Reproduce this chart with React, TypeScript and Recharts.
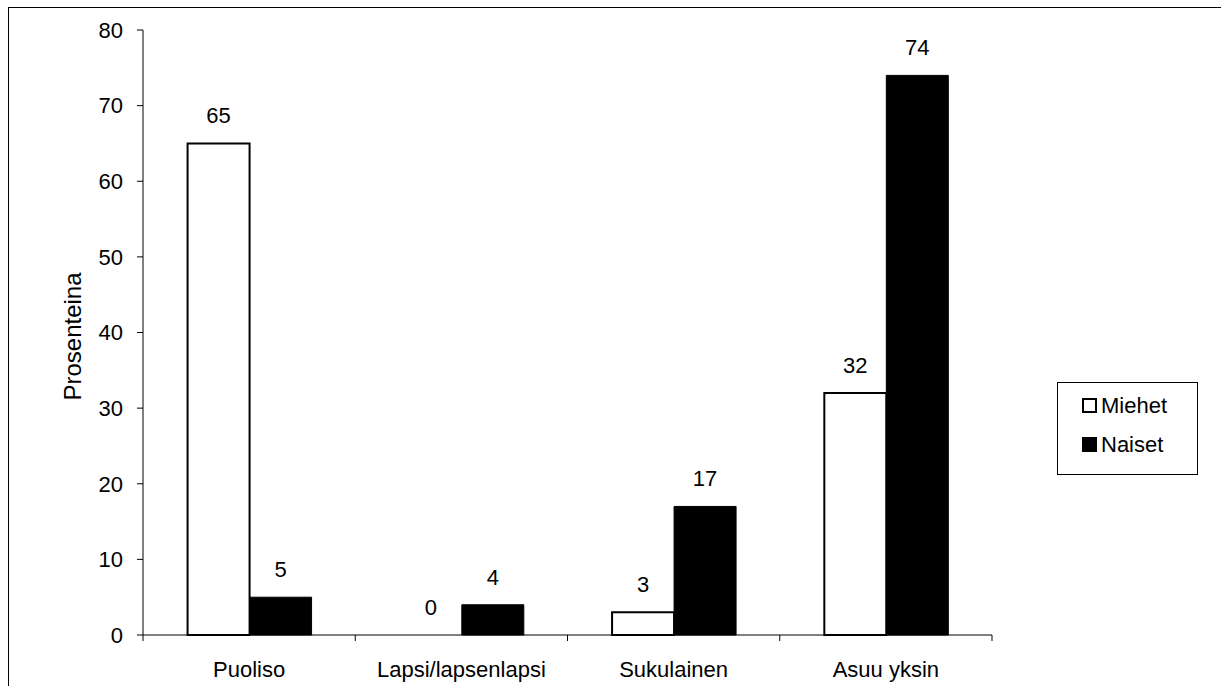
import React from 'react';
import { BarChart, Bar, XAxis, YAxis, LabelList, Cell } from 'recharts';

// Living arrangement by sex, percent
const categories = ['Puoliso', 'Lapsi/lapsenlapsi', 'Sukulainen', 'Asuu yksin'];
const miehet = [65, 0, 3, 32];
const naiset = [5, 4, 17, 74];
const yTicks = [0, 10, 20, 30, 40, 50, 60, 70, 80];
const seriesNames = ['Miehet', 'Naiset'];
const yAxisTitle = 'Prosenteina';

const data = categories.map((name, i) => ({
  name,
  [seriesNames[0]]: miehet[i],
  [seriesNames[1]]: naiset[i],
}));

const FONT = '"Liberation Sans", Arial, Helvetica, sans-serif';
const FS = 22;

// Category label at the band centre, tick marks at the band edges
const CategoryTick = (props: any) => {
  const { x, y, payload, index, visibleTicksCount } = props;
  const half = payload && payload.offset ? payload.offset : 0;
  const last = index === visibleTicksCount - 1;
  return (
    <g>
      <line x1={x - half} x2={x - half} y1={y} y2={y + 6} stroke="#000" strokeWidth={1} />
      {last && <line x1={x + half} x2={x + half} y1={y} y2={y + 6} stroke="#000" strokeWidth={1} />}
      <text x={x} y={y + 42} textAnchor="middle" fontFamily={FONT} fontSize={FS} fill="#000">
        {payload.value}
      </text>
    </g>
  );
};

const YTitle = (props: any) => {
  const vb = props.viewBox || { x: 0, y: 0, width: 0, height: 0 };
  const cx = vb.x + 63;
  const cy = vb.y + vb.height / 2 + 4;
  return (
    <text
      x={cx}
      y={cy}
      transform={`rotate(-90 ${cx} ${cy})`}
      textAnchor="middle"
      dominantBaseline="central"
      fontFamily={FONT}
      fontSize={24}
      fill="#000"
    >
      {yAxisTitle}
    </text>
  );
};

const swatch = (filled: boolean): React.CSSProperties => ({
  width: 15,
  height: 15,
  boxSizing: 'border-box',
  border: '2px solid #000',
  background: filled ? '#000' : '#fff',
  marginRight: 4,
});

export default function App() {
  return (
    <div
      style={{
        position: 'fixed',
        left: 8,
        top: 7,
        width: 1300,
        height: 800,
        borderLeft: '1px solid #000',
        borderTop: '1px solid #000',
        background: '#fff',
      }}
    >
      <div style={{ position: 'absolute', left: 0, top: 0 }}>
        <BarChart
          width={1213}
          height={679}
          data={data}
          margin={{ top: 22, right: 230, bottom: 0, left: 0 }}
          barCategoryGap="21%"
          barGap={0}
        >
          <XAxis
            dataKey="name"
            height={52}
            stroke="#000"
            tickLine={false}
            tickSize={0}
            tickMargin={0}
            tick={<CategoryTick />}
            interval={0}
          />
          <XAxis xAxisId="top" dataKey="name" orientation="top" height={0} stroke="#000" tick={false} tickLine={false} />
          <YAxis
            width={134}
            domain={[0, 80]}
            ticks={yTicks}
            stroke="#000"
            tickSize={6}
            tickMargin={14}
            tick={{ fill: '#000', fontFamily: FONT, fontSize: FS }}
            label={<YTitle />}
          />
          <YAxis yAxisId="right" orientation="right" width={0} domain={[0, 80]} stroke="#000" tick={false} tickLine={false} />
          <Bar
            dataKey={seriesNames[0]}
            fill="#fff"
            stroke="#000"
            strokeWidth={2}
            minPointSize={0.01}
            isAnimationActive={false}
          >
            {miehet.map((v, i) => (
              <Cell key={i} stroke={v === 0 ? 'none' : '#000'} />
            ))}
            <LabelList dataKey={seriesNames[0]} position="top" offset={20} fill="#000" fontFamily={FONT} fontSize={FS} />
          </Bar>
          <Bar dataKey={seriesNames[1]} fill="#000" stroke="#000" strokeWidth={1} isAnimationActive={false}>
            <LabelList dataKey={seriesNames[1]} position="top" offset={20} fill="#000" fontFamily={FONT} fontSize={FS} />
          </Bar>
        </BarChart>
      </div>
      <div
        style={{
          position: 'absolute',
          left: 1048,
          top: 374,
          width: 141,
          height: 93,
          boxSizing: 'border-box',
          border: '1px solid #000',
          background: '#fff',
          fontFamily: FONT,
          fontSize: FS,
          color: '#000',
          paddingLeft: 24,
          paddingTop: 3,
        }}
      >
        {seriesNames.map((n, i) => (
          <div key={n} style={{ display: 'flex', alignItems: 'center', height: 39 }}>
            <div style={swatch(i === 1)} />
            <span>{n}</span>
          </div>
        ))}
      </div>
    </div>
  );
}
